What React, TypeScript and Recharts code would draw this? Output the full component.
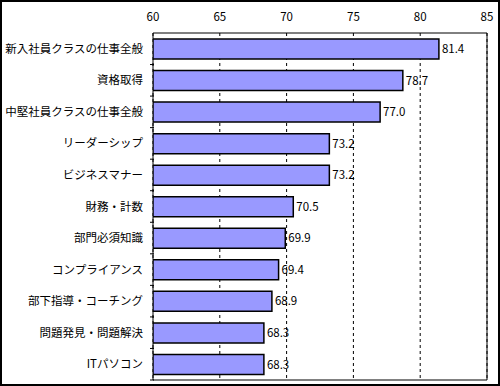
import React from "react";
import {
  BarChart,
  Bar,
  XAxis,
  YAxis,
  CartesianGrid,
  LabelList,
  ReferenceArea,
} from "recharts";

const categories = [
  "新入社員クラスの仕事全般",
  "資格取得",
  "中堅社員クラスの仕事全般",
  "リーダーシップ",
  "ビジネスマナー",
  "財務・計数",
  "部門必須知識",
  "コンプライアンス",
  "部下指導・コーチング",
  "問題発見・問題解決",
  "ITパソコン",
];

const scores = [81.4, 78.7, 77.0, 73.2, 73.2, 70.5, 69.9, 69.4, 68.9, 68.3, 68.3];

const xTicks = [60, 65, 70, 75, 80, 85];

const data = categories.map((name, i) => ({ name, value: scores[i] }));

const FONT = "'Noto Sans CJK JP', sans-serif";

// label on the left plus the little inward tick at the band edge
const CategoryTick = (props: any) => {
  const { x, y, payload } = props;
  const half = payload.offset || 0;
  return (
    <g>
      <text
        x={x - 2}
        y={y}
        dy={4}
        textAnchor="end"
        fontSize={11.5}
        fontFamily={FONT}
        fill="#000"
      >
        {payload.value}
      </text>
      <line x1={x + 5} x2={x + 9} y1={y + half} y2={y + half} stroke="#000" />
    </g>
  );
};

export default function App() {
  return (
    <div style={{ position: "relative", width: 500, height: 386, background: "#fff" }}>
      <style>{`body{margin:0}`}</style>
      <BarChart
        width={500}
        height={386}
        data={data}
        layout="vertical"
        margin={{ top: 5, right: 13, bottom: 6, left: 5 }}
        barSize={20}
      >
        <CartesianGrid
          horizontal={false}
          strokeDasharray="3 3"
          stroke="#000"
        />
        <XAxis
          type="number"
          orientation="top"
          domain={[60, 85]}
          ticks={xTicks}
          height={28}
          axisLine={false}
          tickLine={false}
          tickMargin={6}
          tick={{ fontSize: 11.5, fontFamily: FONT, fill: "#000" }}
          allowDataOverflow
        />
        <YAxis
          type="category"
          dataKey="name"
          width={148}
          axisLine={false}
          tickLine={false}
          interval={0}
          tick={<CategoryTick />}
        />
        <ReferenceArea x1={60} x2={85} fill="none" stroke="#000" strokeWidth={1} ifOverflow="visible" />
        <Bar
          dataKey="value"
          fill="#9999FF"
          stroke="#000"
          strokeWidth={1.5}
          isAnimationActive={false}
        >
          <LabelList
            dataKey="value"
            position="right"
            offset={3}
            formatter={(v: any) => Number(v).toFixed(1)}
            style={{ fontSize: 11.5, fontFamily: FONT, fill: "#000" }}
          />
        </Bar>
      </BarChart>
      <div
        style={{
          position: "absolute",
          inset: 0,
          border: "2px solid #000",
          pointerEvents: "none",
        }}
      />
    </div>
  );
}
